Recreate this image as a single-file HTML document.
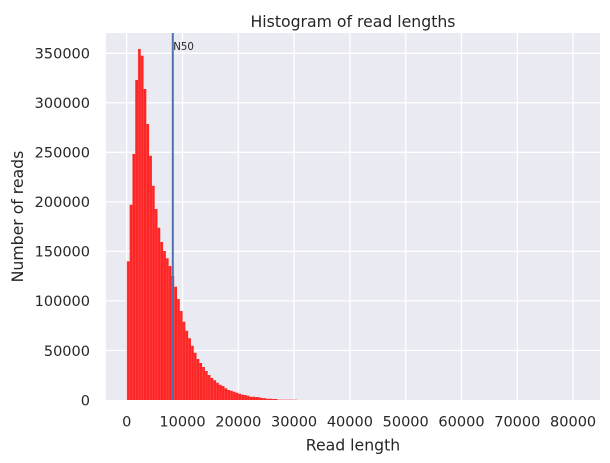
<!DOCTYPE html>
<html><head><meta charset="utf-8"><style>
html,body{margin:0;padding:0;background:#fff;}
svg{display:block;}
text{font-family:"DejaVu Sans","Liberation Sans",sans-serif;fill:#262626;}
</style></head><body>
<svg width="610" height="463" viewBox="0 0 610 463" xmlns="http://www.w3.org/2000/svg">
<defs>
<pattern id="bars" patternUnits="userSpaceOnUse" x="126.8" y="0" width="2.79" height="463">
<rect x="0" y="0" width="2.79" height="463" fill="#fd2626"/>
<rect x="0" y="0" width="0.3" height="463" fill="#ff7070"/>
</pattern>
</defs>
<rect x="0" y="0" width="610" height="463" fill="#fff"/>
<rect x="106" y="33" width="494" height="367" fill="#EAEAF2"/>
<g stroke="#fff" stroke-width="1.3">
<path d="M126.7 33V400M182.5 33V400M238.3 33V400M294.1 33V400M349.9 33V400M405.7 33V400M461.5 33V400M517.3 33V400M573.1 33V400"/>
<path d="M106 350.5H600M106 300.9H600M106 251.4H600M106 201.9H600M106 152.3H600M106 102.8H600M106 53.3H600"/>
</g>
<path fill="url(#bars)" d="M126.8 400V261.3H129.59V204.7H132.38V154H135.17V80H137.96V49H140.75V55.7H143.54V89H146.33V124H149.12V155.7H151.91V185.7H154.7V209H157.49V227.7H160.28V242H163.07V251H165.86V258.3H168.65V266H171.44V276H174.23V286.7H177.02V299H179.81V311H182.6V321.7H185.39V330.7H188.18V338.3H190.97V345.7H193.76V352.7H196.55V359H199.34V363H202.13V367H204.92V371H207.71V375H210.5V378H213.29V380.3H216.08V382.7H218.87V384.7H221.66V386H224.45V388.3H227.24V390H230.03V390.7H232.82V391.7H235.61V392.7H238.4V393.7H241.19V394.7H243.98V395H246.77V395.7H249.56V396.7H255.14V397H257.93V397.3H260.72V398H263.51V398.3H266.3V398.7H271.88V399H277.46V400Z"/>
<rect x="277.46" y="399.2" width="19.5" height="0.8" fill="#f6a8ae"/>
<line x1="172.8" y1="33" x2="172.8" y2="400" stroke="#4C72B0" stroke-width="2"/>
<text x="173.3" y="50" font-size="10.2">N50</text>
<g font-size="14.5" text-anchor="end">
<text x="90" y="405.3">0</text>
<text x="90" y="355.8">50000</text>
<text x="90" y="306.2">100000</text>
<text x="90" y="256.7">150000</text>
<text x="90" y="207.2">200000</text>
<text x="90" y="157.6">250000</text>
<text x="90" y="108.1">300000</text>
<text x="90" y="58.6">350000</text>
</g>
<g font-size="14.5" text-anchor="middle">
<text x="126.7" y="426.3">0</text>
<text x="182.5" y="426.3">10000</text>
<text x="238.3" y="426.3">20000</text>
<text x="294.1" y="426.3">30000</text>
<text x="349.9" y="426.3">40000</text>
<text x="405.7" y="426.3">50000</text>
<text x="461.5" y="426.3">60000</text>
<text x="517.3" y="426.3">70000</text>
<text x="573.1" y="426.3">80000</text>
</g>
<text x="353" y="450.5" font-size="15.7" text-anchor="middle">Read length</text>
<text transform="translate(23,216.5) rotate(-90)" x="0" y="0" font-size="15.7" text-anchor="middle">Number of reads</text>
<text x="353" y="27" font-size="15.7" text-anchor="middle">Histogram of read lengths</text>
</svg>
</body></html>
